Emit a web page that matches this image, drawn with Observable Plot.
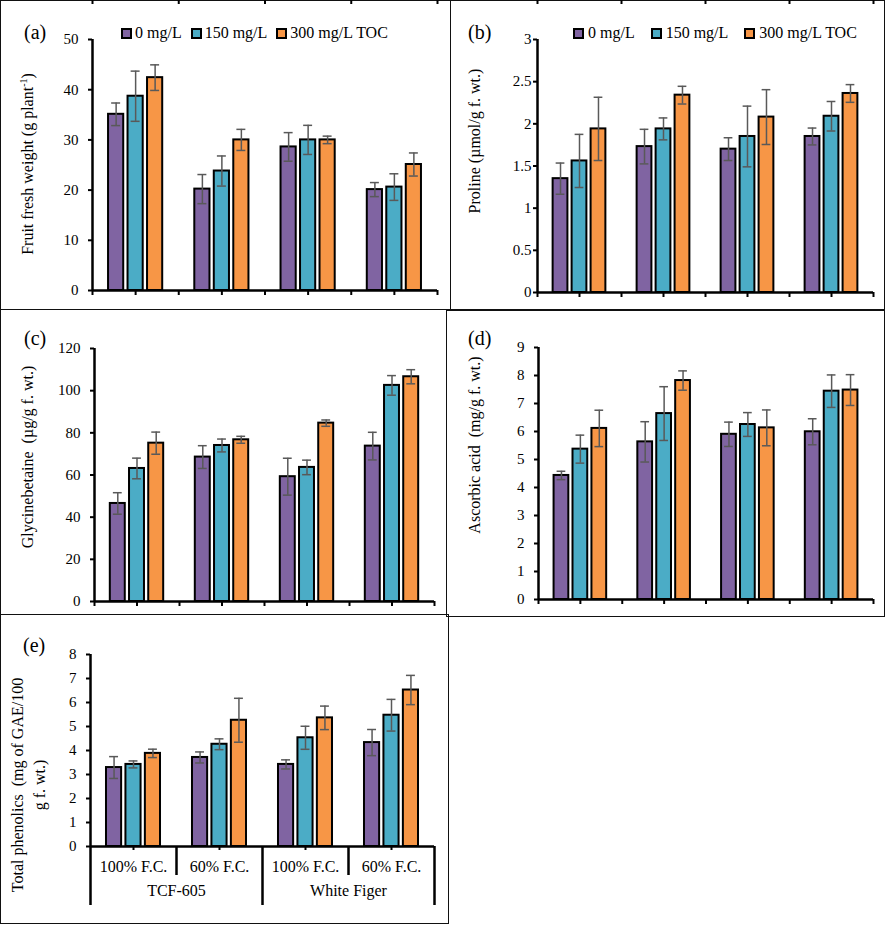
<!DOCTYPE html>
<html><head><meta charset="utf-8">
<script src="https://cdn.jsdelivr.net/npm/d3@7"></script>
<script src="https://cdn.jsdelivr.net/npm/@observablehq/plot@0.6"></script>
<style>
html,body{margin:0;padding:0;background:#fff;}
#chart{position:relative;width:886px;height:925px;overflow:hidden;background:#fff;font-family:"Liberation Serif","Times New Roman",serif;color:#000;}
.box{position:absolute;box-sizing:border-box;border:1px solid #111;}
.ytitle{position:absolute;white-space:pre;font-size:16px;line-height:22px;transform:translate(-50%,-50%) rotate(-90deg);text-align:center;}
.ytitle sup{font-size:10px;line-height:0;}
.letter{position:absolute;font-size:20px;line-height:24px;transform:translateY(-50%);}
.legend{position:absolute;display:flex;align-items:center;font-size:16px;line-height:20px;transform:translateY(-50%);white-space:pre;}
.legend .sw{width:11px;height:11px;box-sizing:border-box;border:2px solid #000;display:inline-block;}
svg{position:absolute;}
</style></head><body><div id="chart"></div><script>
// ---- data ----
const treatments = ["0 mg/L", "150 mg/L", "300 mg/L TOC"];
const irrigation = ["100% F.C.", "60% F.C.", "100% F.C.", "60% F.C."];
const cultivars = ["TCF-605", "White Figer"];
const treatmentColors = ["#8064A2", "#4BACC6", "#F79646"];

const fruitWeight    = [[35.1, 38.7, 42.4], [20.2, 23.8, 30.0], [28.6, 30.0, 30.0], [20.1, 20.6, 25.1]];
const fruitWeightErr = [[2.25, 5.0, 2.55], [2.9, 3.0, 2.1], [2.85, 2.9, 0.75], [1.4, 2.65, 2.3]];
const fruitWeightTicks = [0, 10, 20, 30, 40, 50];

const proline    = [[1.35, 1.56, 1.94], [1.73, 1.94, 2.34], [1.70, 1.85, 2.08], [1.85, 2.09, 2.36]];
const prolineErr = [[0.185, 0.315, 0.375], [0.205, 0.13, 0.105], [0.135, 0.36, 0.325], [0.10, 0.175, 0.105]];
const prolineTicks = [0, 0.5, 1, 1.5, 2, 2.5, 3];

const glycinebetaine    = [[46.5, 63.1, 75.1], [68.5, 74.0, 76.7], [59.2, 63.6, 84.6], [73.7, 102.5, 106.6]];
const glycinebetaineErr = [[5.1, 4.9, 5.25], [5.4, 3.05, 1.65], [8.75, 3.45, 1.5], [6.55, 4.65, 3.35]];
const glycinebetaineTicks = [0, 20, 40, 60, 80, 100, 120];

const ascorbic    = [[4.43, 5.37, 6.11], [5.63, 6.64, 7.82], [5.90, 6.25, 6.13], [5.99, 7.44, 7.48]];
const ascorbicErr = [[0.15, 0.5, 0.65], [0.72, 0.96, 0.345], [0.435, 0.425, 0.64], [0.465, 0.58, 0.55]];
const ascorbicTicks = [0, 1, 2, 3, 4, 5, 6, 7, 8, 9];

const phenolics    = [[3.29, 3.42, 3.88], [3.71, 4.26, 5.26], [3.42, 4.53, 5.36], [4.33, 5.47, 6.52]];
const phenolicsErr = [[0.455, 0.145, 0.175], [0.23, 0.225, 0.915], [0.19, 0.48, 0.49], [0.545, 0.66, 0.61]];
const phenolicsTicks = [0, 1, 2, 3, 4, 5, 6, 7, 8];

// ---- layout ----
const chart = document.getElementById("chart");
const STEP = 0.226, BAR_W = 0.176, CAP = 0.052, ERR = "#595959";
const FONT = '"Liberation Serif", "Times New Roman", serif';

function el(cls, css, html) {
  const d = document.createElement("div");
  d.className = cls;
  Object.assign(d.style, css);
  if (html != null) d.innerHTML = html;
  chart.appendChild(d);
  return d;
}
function box(x1, y1, x2, y2) {
  el("box", {left: x1 + "px", top: y1 + "px", width: (x2 - x1 + 1) + "px", height: (y2 - y1 + 1) + "px"});
}
box(0, 0, 450, 309);
box(450, 0, 884, 309);
box(0, 309, 446, 614);
box(446, 310, 884, 616);
box(0, 614, 448, 923);

function panel(cfg) {
  const rows = cfg.means.flatMap((g, gi) => g.map((v, si) => ({
    gi, treatment: treatments[si], value: v, err: cfg.errs[gi][si],
    xc: gi + 0.5 + (si - 1) * STEP
  })));
  const boundaries = d3.range(0, irrigation.length + 1);
  const centers = irrigation.map((_, i) => i + 0.5);
  const marks = [
    Plot.rect(rows, {x1: d => d.xc - BAR_W / 2, x2: d => d.xc + BAR_W / 2, y1: () => 0, y2: "value",
      fill: "treatment", stroke: "#000", strokeWidth: 2}),
    Plot.ruleX(rows, {x: "xc", y1: d => d.value - d.err, y2: d => d.value + d.err, stroke: ERR, strokeWidth: 1.5}),
    Plot.ruleY(rows, {y: d => d.value + d.err, x1: d => d.xc - CAP, x2: d => d.xc + CAP, stroke: ERR, strokeWidth: 1.5}),
    Plot.ruleY(rows, {y: d => d.value - d.err, x1: d => d.xc - CAP, x2: d => d.xc + CAP, stroke: ERR, strokeWidth: 1.5}),
    Plot.ruleX([0], {stroke: "#000", strokeWidth: 2.5}),
    Plot.ruleY([0], {stroke: "#000", strokeWidth: 2.5}),
    Plot.axisY({ticks: cfg.ticks, tickSize: 4, tickPadding: cfg.tickPadding, tickFormat: d => String(d),
      label: null, strokeWidth: 2, fontSize: 15})
  ];
  if (cfg.categoryAxis) {
    const outer = cultivars.map((_, i) => i * irrigation.length / cultivars.length);
    outer.push(irrigation.length);
    const inner = boundaries.filter(b => !outer.includes(b));
    marks.push(
      Plot.axisX({ticks: centers, tickSize: 4, tickPadding: 10, tickFormat: d => irrigation[Math.floor(d)],
        label: null, strokeWidth: 2, fontSize: 16}),
      Plot.axisX({ticks: inner, tickSize: 29, tickFormat: () => "", label: null, strokeWidth: 2.5}),
      Plot.axisX({ticks: outer, tickSize: 59, tickFormat: () => "", label: null, strokeWidth: 2.5}),
      Plot.text(cultivars, {x: (d, i) => (i + 0.5) * irrigation.length / cultivars.length, text: d => d,
        frameAnchor: "bottom", dy: 49, fontSize: 16})
    );
  } else {
    marks.push(Plot.axisX({ticks: boundaries.concat(centers), tickSize: 5, tickFormat: () => "", label: null, strokeWidth: 2}));
  }
  if (cfg.topTicks) {
    // cut-off tick marks of a neighbouring axis along the top edge of the figure
    marks.push(Plot.tickX(boundaries, {x: d => d, stroke: "#000", strokeWidth: 2,
      insetTop: -cfg.mt, insetBottom: cfg.height - cfg.mb - 4}));
  }
  const svg = Plot.plot({
    width: cfg.width, height: cfg.height,
    marginLeft: cfg.ml, marginRight: cfg.mr, marginTop: cfg.mt, marginBottom: cfg.mb,
    x: {domain: [0, irrigation.length]},
    y: {domain: [cfg.ticks[0], cfg.ticks[cfg.ticks.length - 1]]},
    color: {domain: treatments, range: treatmentColors},
    style: {fontFamily: FONT, fontSize: "15px", color: "#000", background: "transparent", overflow: "visible"},
    marks
  });
  svg.style.left = cfg.left + "px";
  svg.style.top = cfg.top + "px";
  chart.appendChild(svg);

  el("ytitle", {left: cfg.title[1] + "px", top: cfg.title[2] + "px"}, cfg.title[0]);
  el("letter", {left: cfg.letter[1] + "px", top: cfg.letter[2] + "px"}, cfg.letter[0]);
  if (cfg.legend) {
    const lg = el("legend", {left: cfg.legend[0] + "px", top: cfg.legend[1] + "px"});
    treatments.forEach((t, i) => {
      const sw = document.createElement("span");
      sw.className = "sw";
      sw.style.background = treatmentColors[i];
      sw.style.marginLeft = i === 0 ? "0px" : cfg.legend[3] + "px";
      sw.style.marginRight = cfg.legend[2] + "px";
      const tx = document.createElement("span");
      tx.textContent = t;
      lg.appendChild(sw); lg.appendChild(tx);
    });
  }
}

panel({means: fruitWeight, errs: fruitWeightErr, ticks: fruitWeightTicks, tickPadding: 10,
  left: 0, top: 0, width: 450, height: 309, ml: 92, mr: 13, mt: 39, mb: 19, topTicks: true,
  title: ["Fruit fresh weight (g plant<sup>-1</sup>)", 28, 164], letter: ["(a)", 24, 32], legend: [121, 33, 3, 9]});
panel({means: proline, errs: prolineErr, ticks: prolineTicks, tickPadding: 2,
  left: 450, top: 0, width: 434, height: 309, ml: 87, mr: 11, mt: 39, mb: 17, topTicks: true,
  title: ["Proline (µmol/g f. wt.)", 475, 141], letter: ["(b)", 468, 32], legend: [573, 33, 4, 16]});
panel({means: glycinebetaine, errs: glycinebetaineErr, ticks: glycinebetaineTicks, tickPadding: 10,
  left: 0, top: 309, width: 446, height: 305, ml: 94, mr: 12, mt: 39, mb: 13,
  title: ["Glycinebetaine  (µg/g f. wt.)", 28, 457], letter: ["(c)", 24, 338]});
panel({means: ascorbic, errs: ascorbicErr, ticks: ascorbicTicks, tickPadding: 10,
  left: 446, top: 309, width: 438, height: 306, ml: 92, mr: 11, mt: 38, mb: 16,
  title: ["Ascorbic acid  (mg/g f. wt.)", 475, 445], letter: ["(d)", 468, 338]});
panel({means: phenolics, errs: phenolicsErr, ticks: phenolicsTicks, tickPadding: 10, categoryAxis: true,
  left: 0, top: 614, width: 448, height: 311, ml: 90, mr: 14, mt: 40, mb: 79,
  title: ["Total phenolics  (mg of GAE/100\ng f. wt.)", 29, 785], letter: ["(e)", 23, 645]});
</script></body></html>
